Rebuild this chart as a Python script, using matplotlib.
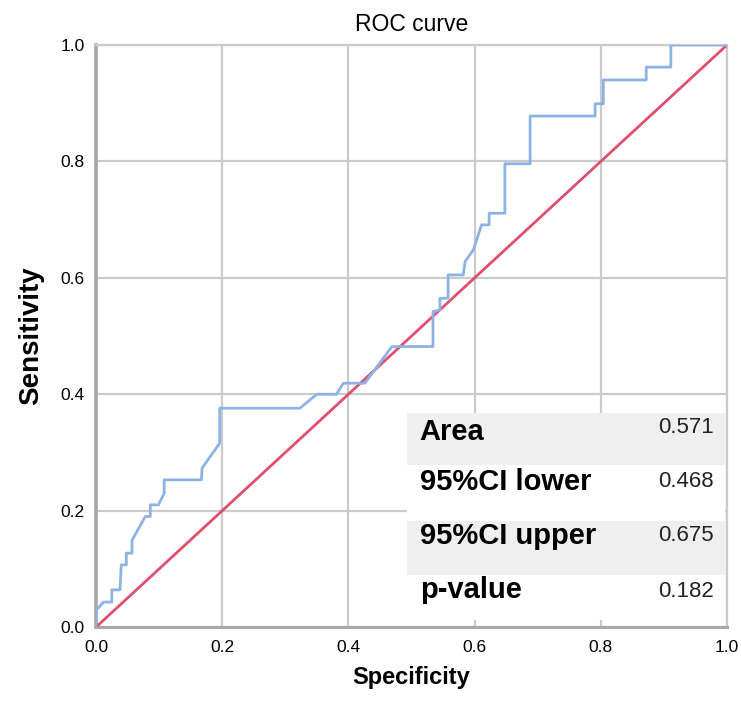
import matplotlib
matplotlib.use("Agg")
import matplotlib.pyplot as plt
from matplotlib.patches import Rectangle

plt.rcParams['font.family'] = ['Liberation Sans', 'DejaVu Sans']

# ROC curve (1 - specificity, sensitivity)
fpr = [0.0, 0.0, 0.012, 0.025, 0.025, 0.038, 0.040, 0.048, 0.048, 0.057,
       0.057, 0.078, 0.086, 0.086, 0.099, 0.108, 0.108, 0.167, 0.168, 0.196,
       0.196, 0.323, 0.350, 0.381, 0.392, 0.426, 0.469, 0.534, 0.534, 0.545,
       0.545, 0.558, 0.558, 0.582, 0.585, 0.598, 0.611, 0.623, 0.623, 0.648,
       0.648, 0.688, 0.688, 0.791, 0.791, 0.804, 0.804, 0.872, 0.872, 0.911,
       0.911, 1.0]
tpr = [0.0, 0.029, 0.043, 0.043, 0.064, 0.064, 0.107, 0.107, 0.127, 0.127,
       0.149, 0.190, 0.190, 0.210, 0.210, 0.230, 0.253, 0.253, 0.273, 0.316,
       0.376, 0.376, 0.400, 0.400, 0.419, 0.419, 0.482, 0.482, 0.542, 0.545,
       0.565, 0.565, 0.605, 0.605, 0.628, 0.648, 0.691, 0.691, 0.711, 0.711,
       0.796, 0.796, 0.878, 0.878, 0.899, 0.899, 0.940, 0.940, 0.962, 0.962,
       1.0, 1.0]

ref_line = [0.0, 1.0]

stat_labels = ["Area", "95%CI lower", "95%CI upper", "p-value"]
stat_values = ["0.571", "0.468", "0.675", "0.182"]

ticks = [0.0, 0.2, 0.4, 0.6, 0.8, 1.0]
tick_labels = ["0.0", "0.2", "0.4", "0.6", "0.8", "1.0"]

fig = plt.figure(figsize=(7.41, 7.11), dpi=100)
ax = fig.add_axes([0.1296, 0.118, 0.8515, 0.8187])

grid_col = '#cbcbcb'
ax.plot(ref_line, ref_line, color='#e0506e', lw=2.0, zorder=3)
ax.plot(fpr, tpr, color='#8db3e6', lw=2.0, zorder=4)

ax.set_xlim(0, 1)
ax.set_ylim(0, 1)
ax.set_xticks(ticks)
ax.set_xticklabels(tick_labels, fontsize=12.5)
ax.set_yticks(ticks)
ax.set_yticklabels(tick_labels, fontsize=12.5)
ax.grid(True, color=grid_col, lw=1.6, zorder=0)
ax.set_axisbelow(True)
ax.tick_params(axis='both', direction='in', length=5, width=1.2, color=grid_col)
ax.tick_params(axis='x', pad=9)
ax.tick_params(axis='y', pad=8)

for side in ['top', 'right']:
    ax.spines[side].set_color(grid_col)
    ax.spines[side].set_linewidth(1.6)
ax.spines['left'].set_color('#a8a8a8')
ax.spines['left'].set_linewidth(2.6)
ax.spines['bottom'].set_color('#a8a8a8')
ax.spines['bottom'].set_linewidth(2.2)

ax.set_title("ROC curve", fontsize=16.5, pad=10)
ax.set_xlabel("Specificity", fontsize=17, fontweight='bold', labelpad=8)
ax.set_ylabel("Sensitivity", fontsize=20, fontweight='bold')
ax.yaxis.set_label_coords(-0.083, 0.5)

# statistics table
row_edges = [0.368, 0.278, 0.182, 0.089, 0.012]
row_fill = ['#efefef', 'white', '#efefef', 'white']
label_y = [0.335, 0.250, 0.157, 0.064]
value_y = [0.343, 0.250, 0.157, 0.062]
for i in range(len(stat_labels)):
    ax.add_patch(Rectangle((0.493, row_edges[i + 1]), 0.504,
                           row_edges[i] - row_edges[i + 1],
                           transform=ax.transAxes, facecolor=row_fill[i],
                           edgecolor='none', zorder=5))
    ax.text(0.513, label_y[i], stat_labels[i], transform=ax.transAxes,
            fontsize=21, fontweight='bold', va='center', ha='left', zorder=6)
    ax.text(0.979, value_y[i], stat_values[i], transform=ax.transAxes,
            fontsize=16, va='center', ha='right', color='#222222', zorder=6)

fig.savefig("out.png", dpi=100)
